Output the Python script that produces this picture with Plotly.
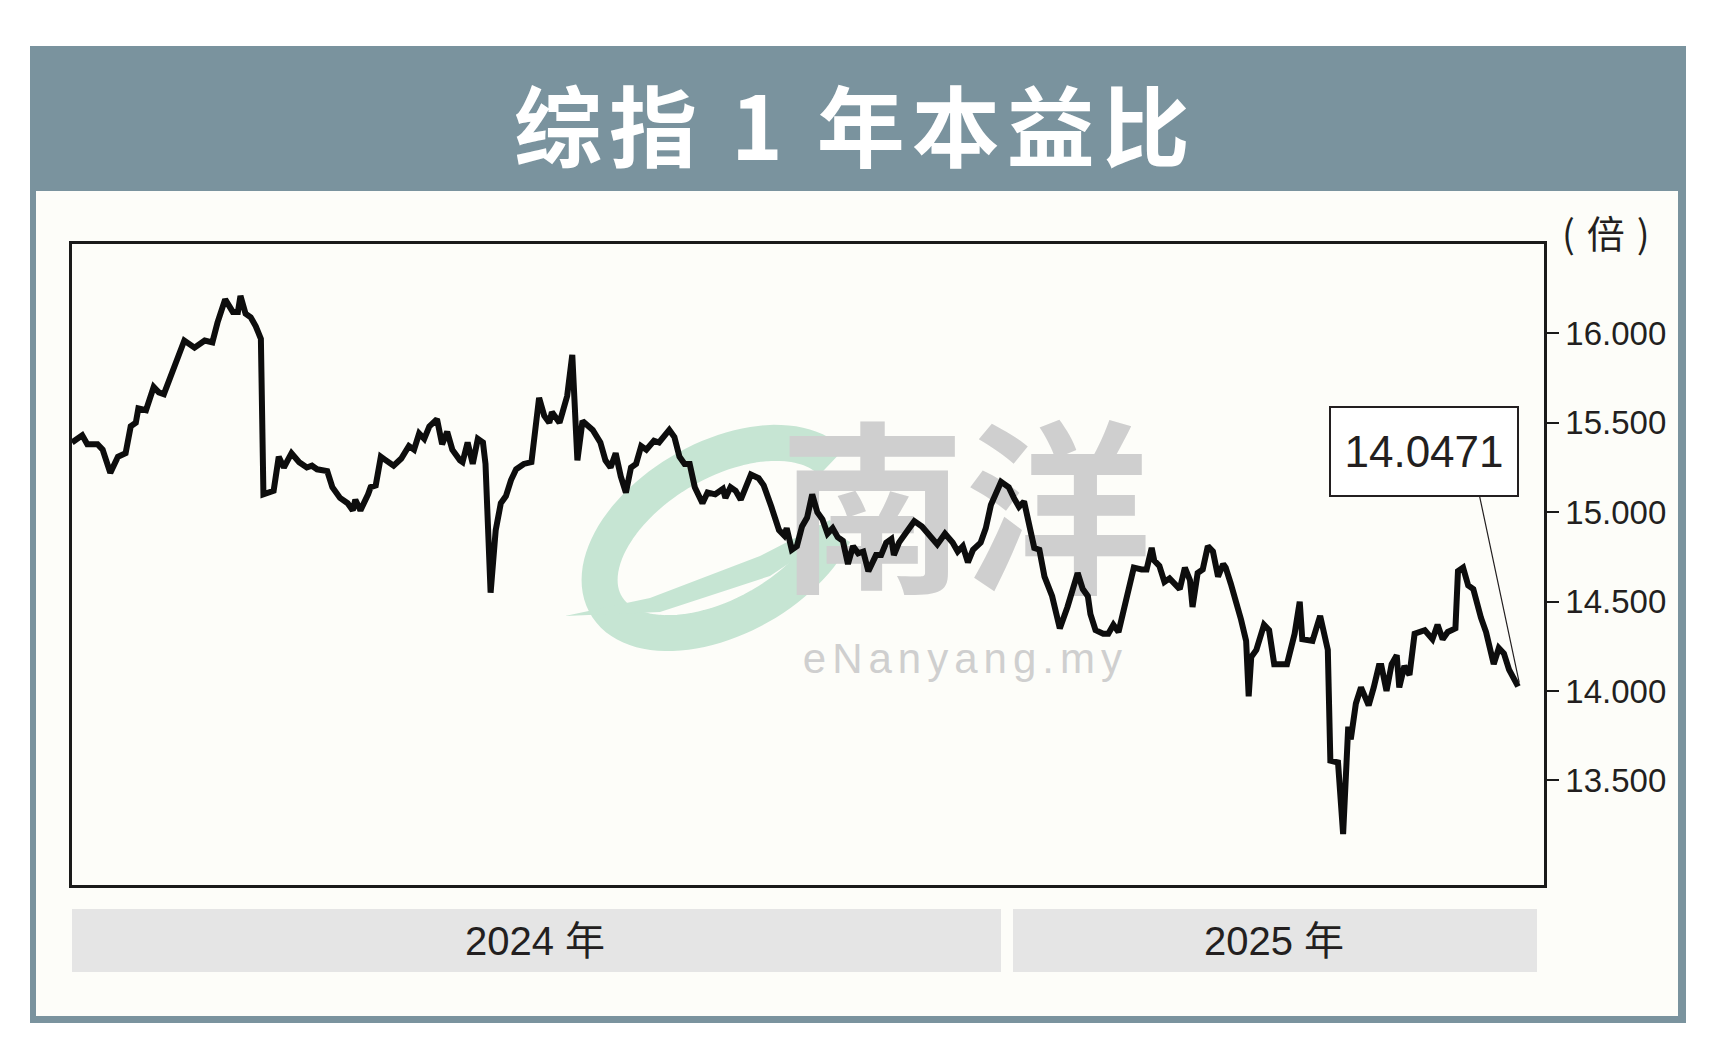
import numpy as np
import pandas as pd
import plotly.graph_objects as go

# ---------------- data ----------------
start_date = "2024-01-01"
days = [0, 4, 6, 10, 12, 15, 18, 21, 23, 25, 26, 29, 32, 34, 36, 40, 44, 48, 52, 55,
        57, 60, 63, 65, 66, 68, 70, 72, 74, 75, 78, 79, 81, 83, 86, 89, 92, 94, 96, 100,
        102, 105, 108, 110, 111, 113, 116, 117, 119, 121, 123, 126, 129, 132, 134, 136, 138, 140, 143, 145,
        147, 149, 152, 153, 155, 157, 159, 161, 162, 164, 166, 168, 170, 172, 174, 177, 180, 181, 183, 185,
        187, 188, 191, 192, 194, 196, 197, 198, 200, 202, 204, 207, 209, 211, 213, 215, 217, 219, 221, 223,
        225, 228, 230, 234, 236, 238, 240, 242, 244, 247, 249, 252, 255, 256, 258, 260, 262, 264, 266, 269,
        271, 274, 277, 279, 280, 282, 284, 286, 288, 290, 292, 294, 296, 298, 300, 302, 304, 306, 308, 310,
        312, 315, 317, 319, 321, 322, 324, 328, 330, 333, 336, 339, 342, 345, 347, 349, 351, 353, 356, 358,
        360, 362, 364, 365, 367, 369, 371, 373, 375, 377, 379, 381, 384, 386, 387, 390, 392, 394, 396, 398,
        399, 401, 404, 406, 408, 410, 412, 414, 416, 419, 421, 423, 424, 426, 428, 430, 432, 434, 436, 438,
        439, 441, 443, 445, 447, 449, 451, 452, 454, 456, 458, 460, 461, 462, 464, 467, 469, 471, 474, 476,
        479, 481, 482, 486, 489, 490, 492, 493, 496, 498, 500, 501, 503, 505, 508, 510, 512, 513, 515, 517,
        519, 520, 522, 524, 526, 530, 533, 535, 537, 539, 542, 543, 545, 547, 549, 552, 554, 557, 559, 561,
        563, 566, 567]
pe_values = [15.39, 15.43, 15.38, 15.38, 15.35, 15.22, 15.31, 15.33, 15.48, 15.50, 15.58, 15.57, 15.70, 15.67, 15.66, 15.80, 15.96, 15.92, 15.96, 15.95,
             16.06, 16.19, 16.12, 16.12, 16.21, 16.11, 16.09, 16.04, 15.97, 15.10, 15.11, 15.12, 15.31, 15.25, 15.33, 15.28, 15.25, 15.26, 15.24, 15.23,
             15.14, 15.08, 15.05, 15.01, 15.07, 15.01, 15.10, 15.14, 15.15, 15.31, 15.29, 15.26, 15.30, 15.37, 15.35, 15.44, 15.41, 15.48, 15.52, 15.38,
             15.45, 15.35, 15.29, 15.28, 15.39, 15.27, 15.41, 15.39, 15.27, 14.55, 14.90, 15.05, 15.09, 15.18, 15.24, 15.27, 15.28, 15.40, 15.64, 15.54,
             15.50, 15.56, 15.50, 15.55, 15.65, 15.88, 15.55, 15.29, 15.51, 15.49, 15.46, 15.39, 15.29, 15.25, 15.33, 15.20, 15.11, 15.25, 15.27, 15.37,
             15.35, 15.40, 15.39, 15.46, 15.42, 15.31, 15.27, 15.27, 15.14, 15.05, 15.11, 15.10, 15.13, 15.08, 15.14, 15.12, 15.07, 15.14, 15.21, 15.19,
             15.15, 15.03, 14.90, 14.87, 14.91, 14.79, 14.81, 14.92, 14.97, 15.10, 15.00, 14.96, 14.88, 14.91, 14.86, 14.84, 14.71, 14.81, 14.77, 14.78,
             14.67, 14.76, 14.76, 14.83, 14.85, 14.76, 14.83, 14.91, 14.95, 14.92, 14.87, 14.82, 14.88, 14.83, 14.78, 14.81, 14.72, 14.79, 14.83, 14.91,
             15.04, 15.11, 15.17, 15.16, 15.14, 15.08, 15.03, 15.06, 14.94, 14.80, 14.79, 14.64, 14.53, 14.42, 14.35, 14.47, 14.57, 14.66, 14.57, 14.53,
             14.43, 14.34, 14.32, 14.32, 14.37, 14.33, 14.45, 14.58, 14.69, 14.68, 14.68, 14.80, 14.73, 14.70, 14.61, 14.63, 14.60, 14.57, 14.69, 14.62,
             14.47, 14.66, 14.68, 14.81, 14.78, 14.64, 14.71, 14.69, 14.60, 14.51, 14.40, 14.28, 13.97, 14.19, 14.23, 14.37, 14.34, 14.15, 14.15, 14.15,
             14.32, 14.50, 14.29, 14.28, 14.42, 14.36, 14.23, 13.61, 13.60, 13.20, 13.80, 13.73, 13.93, 14.02, 13.92, 14.02, 14.14, 14.14, 14.00, 14.15,
             14.20, 14.02, 14.14, 14.09, 14.32, 14.34, 14.29, 14.37, 14.29, 14.33, 14.35, 14.67, 14.69, 14.59, 14.57, 14.41, 14.33, 14.15, 14.24, 14.21,
             14.12, 14.04, 14.0471]
last_label = "14.0471"
year_labels = ["2024 年", "2025 年"]
ytick_vals = [13.5, 14.0, 14.5, 15.0, 15.5, 16.0]
title_text = "综指 1 年本益比"
unit_text = "(倍)"
watermark_cn = "南洋"
watermark_url = "eNanyang.my"

dates = pd.Timestamp(start_date) + pd.to_timedelta(days, unit="D")

# ---------------- geometry helpers (decoration only) ----------------
OFF = 8                      # page body margin
W, H = 1730 - OFF, 1042 - OFF
PL, PT, PR, PB = 72, 244, 1544, 885      # plot box in page pixels
PW, PH = PR - PL, PB - PT


def px(X):
    return (X - PL) / PW


def py(Y):
    return (PB - Y) / PH


FRAME = "#7A939E"
CREAM = "#FDFDF9"
INK = "#231F20"
MINT = "#C6E5D3"

fig = go.Figure()

# watermark (one text block, drawn under the data line)
wm_x = pd.Timestamp(start_date) + pd.Timedelta(days=350)
fig.add_trace(go.Scatter(
    x=[wm_x], y=[14.465], mode="text", textposition="middle center",
    text=[f'<span style="font-size:186px"><b>{watermark_cn}</b></span><br>'
          f'<span style="font-size:42px;letter-spacing:6px">{watermark_url}</span>'],
    textfont=dict(size=72, color="#CFCFCF", family="Liberation Sans, Noto Sans CJK SC"),
    hoverinfo="skip", showlegend=False))

# main series
fig.add_trace(go.Scatter(
    x=dates, y=pe_values, mode="lines",
    line=dict(color="#0d0d0d", width=6),
    hoverinfo="skip", showlegend=False))

shapes = []
# outer frame + header band
shapes.append(dict(type="rect", xref="paper", yref="paper", layer="below",
                   x0=px(30), x1=px(1686), y0=py(1023), y1=py(46),
                   fillcolor=FRAME, line=dict(width=0)))
shapes.append(dict(type="rect", xref="paper", yref="paper", layer="below",
                   x0=px(36), x1=px(1678), y0=py(1016), y1=py(191),
                   fillcolor=CREAM, line=dict(width=0)))
# year bands
shapes.append(dict(type="rect", xref="paper", yref="paper", layer="below",
                   x0=px(72), x1=px(1001), y0=py(972), y1=py(909),
                   fillcolor="#E5E5E5", line=dict(width=0)))
shapes.append(dict(type="rect", xref="paper", yref="paper", layer="below",
                   x0=px(1013), x1=px(1537), y0=py(972), y1=py(909),
                   fillcolor="#E5E5E5", line=dict(width=0)))

# green "e" of the watermark logo
cx, cy, a, b, phi = 722, 538, 134, 78, np.deg2rad(30)
t = np.deg2rad(np.linspace(8, 318, 90))
ex = cx + a * np.cos(t) * np.cos(phi) - b * np.sin(t) * np.sin(phi)
ey = cy - (a * np.cos(t) * np.sin(phi) + b * np.sin(t) * np.cos(phi))
path = "M " + " L ".join(f"{px(u):.5f},{py(v):.5f}" for u, v in zip(ex, ey))
shapes.append(dict(type="path", xref="paper", yref="paper", layer="below",
                   path=path, line=dict(color=MINT, width=36)))
tail = [(565, 616), (650, 598), (760, 556), (830, 520), (836, 532), (770, 576), (660, 612)]
tpath = "M " + " L ".join(f"{px(u):.5f},{py(v):.5f}" for u, v in tail) + " Z"
shapes.append(dict(type="path", xref="paper", yref="paper", layer="below",
                   path=tpath, fillcolor=MINT, line=dict(width=0)))

annotations = []
annotations.append(dict(
    xref="paper", yref="paper", x=px(855), y=py(121), showarrow=False,
    text=f'<span style="letter-spacing:7px"><b>{title_text}</b></span>',
    font=dict(size=88, color="#FFFFFF", family="Noto Sans CJK SC", weight=900),
    xanchor="center", yanchor="middle"))
annotations.append(dict(
    xref="paper", yref="paper", x=px(1612), y=py(232), showarrow=False,
    text=f'<span style="letter-spacing:12px">{unit_text}</span>',
    font=dict(size=38, color=INK, family="Noto Sans CJK SC"),
    xanchor="center", yanchor="middle"))
for lab, cxl in zip(year_labels, [535, 1274]):
    annotations.append(dict(
        xref="paper", yref="paper", x=px(cxl), y=py(941), showarrow=False,
        text=lab, font=dict(size=40, color=INK, family="Liberation Sans, Noto Sans CJK SC"),
        xanchor="center", yanchor="middle"))
# value box
annotations.append(dict(
    xref="paper", yref="paper", x=px(1424), y=py(451.5), showarrow=False,
    text=last_label, font=dict(size=44, color=INK, family="Liberation Sans"),
    bordercolor=INK, borderwidth=2, borderpad=0, bgcolor="#FFFFFF",
    width=186, height=87, xanchor="center", yanchor="middle", align="center"))
# leader line to the last point
annotations.append(dict(
    xref="x", yref="y", x=dates[-1], y=pe_values[-1], text="",
    showarrow=True, arrowhead=0, arrowwidth=1.2, arrowcolor=INK,
    ax=-40, ay=-188, standoff=0))

fig.update_layout(
    width=W, height=H, autosize=False,
    margin=dict(l=PL - OFF, r=W - (PR - OFF), t=PT - OFF, b=H - (PB - OFF), pad=0),
    paper_bgcolor="#FFFFFF", plot_bgcolor="rgba(0,0,0,0)",
    shapes=shapes, annotations=annotations, hovermode=False,
    xaxis=dict(type="date",
               range=[pd.Timestamp(start_date), pd.Timestamp(start_date) + pd.Timedelta(days=576.7)],
               showgrid=False, zeroline=False, showticklabels=False, ticks="",
               showline=True, linecolor="#1a1a1a", linewidth=2.5, mirror=True),
    yaxis=dict(side="right", range=[12.915, 16.5], tickvals=ytick_vals, tickformat=".3f",
               ticks="outside", ticklen=12, tickwidth=2, tickcolor="#1a1a1a",
               showgrid=False, zeroline=False,
               showline=True, linecolor="#1a1a1a", linewidth=2.5, mirror=True,
               tickfont=dict(size=33, color=INK, family="Liberation Sans")),
)

fig.write_html("out.html")
